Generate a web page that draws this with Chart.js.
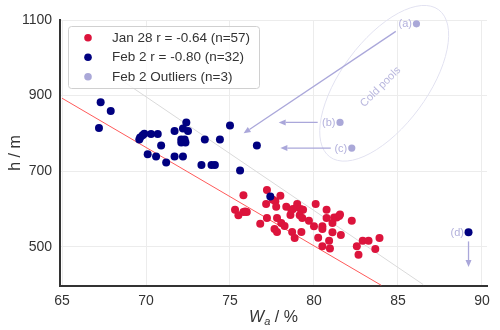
<!DOCTYPE html>
<html>
<head>
<meta charset="utf-8">
<script src="https://cdn.jsdelivr.net/npm/chart.js@4.4.1/dist/chart.umd.min.js"></script>
<style>
  html, body { margin: 0; padding: 0; background: #fff; }
  canvas { display: block; }
</style>
</head>
<body>
<canvas id="chart" width="500" height="330"></canvas>
<script>
// ── data ───────────────────────────────────────────
const janX = [75.3, 75.5, 75.8, 75.8, 75.9, 76.0, 77.2, 77.55, 77.7, 77.75,
              78.0, 77.15, 77.2, 76.8, 77.8, 78.05, 78.25, 77.65, 77.8, 78.35,
              78.65, 78.75, 79.0, 79.0, 79.2, 79.35, 78.6, 79.15, 79.3, 78.7,
              78.85, 79.25, 79.7, 80.0, 80.1, 80.75, 80.75, 80.5, 80.5, 80.25,
              80.5, 81.1, 81.2, 81.35, 81.5, 81.55, 81.1, 80.9, 80.95, 81.6,
              82.25, 82.55, 82.65, 82.9, 83.25, 83.65, 83.9];
const janY = [598, 583, 636, 592, 593, 592, 650, 624, 620, 606,
              635, 613, 576, 561, 576, 563, 555, 547, 539, 606,
              598, 600, 613, 605, 600, 598, 584, 583, 576, 539,
              523, 539, 569, 554, 613, 598, 576, 554, 547, 524,
              501, 563, 577, 577, 581, 585, 538, 516, 495, 531,
              569, 501, 479, 516, 516, 494, 523];

const febX = [67.3, 67.9, 67.2, 69.6, 69.65, 69.8, 69.9, 70.3, 70.7, 70.9,
              70.1, 70.6, 71.2, 71.7, 72.2, 72.4, 72.5, 72.1, 72.3, 72.1,
              72.35, 71.7, 72.2, 73.3, 73.9, 74.1, 73.5, 74.4, 75.0, 75.6,
              76.6, 77.4];
const febY = [882, 859, 814, 784, 789, 795, 799, 798, 798, 768,
              745, 739, 723, 806, 813, 829, 806, 784, 784, 776,
              776, 739, 739, 716, 716, 716, 784, 784, 821, 702,
              768, 633];

const outX = [86.1, 81.55, 82.25];
const outY = [1090, 829, 761];
const outLabels = ['(a)', '(b)', '(c)'];

const dX = [89.2];
const dY = [538];
const dLabels = ['(d)'];

// fitted lines (end points)
const janFitX = [65, 84];
const janFitY = [893, 398];
const febFitX = [68.4, 86.5];
const febFitY = [945, 400];

// arrows: from -> to
const arrowX0 = [84.87, 80.22, 81.0, 89.2];
const arrowY0 = [1070, 829, 761, 514];
const arrowX1 = [75.81, 77.9, 78.0, 89.2];
const arrowY1 = [800, 829, 761, 446];

const poolX = 84.18, poolY = 932.5;     // ellipse centre
const poolTextX = 83.96, poolTextY = 922.8;

const xTicks = [65, 70, 75, 80, 85, 90];
const yTicks = [500, 700, 900, 1100];

const legendItems = [
  { text: 'Jan 28 r = -0.64 (n=57)', color: '#dc143c' },
  { text: 'Feb 2 r = -0.80 (n=32)', color: '#000080' },
  { text: 'Feb 2 Outliers (n=3)', color: '#aaa8d8' }
];

// ───────────────────────────────────────────────────
const FONT = '"Liberation Sans", Arial, sans-serif';
const noteColor = '#aaa7da';
const pts = (xs, ys) => xs.map((x, i) => ({ x, y: ys[i] }));

function drawArrow(ctx, x0, y0, x1, y1) {
  const ang = Math.atan2(y1 - y0, x1 - x0);
  const L = 7, W = 3;
  const bx = x1 - L * Math.cos(ang), by = y1 - L * Math.sin(ang);
  ctx.beginPath();
  ctx.moveTo(x0, y0);
  ctx.lineTo(bx, by);
  ctx.stroke();
  ctx.beginPath();
  ctx.moveTo(x1, y1);
  ctx.lineTo(bx + W * Math.sin(ang), by - W * Math.cos(ang));
  ctx.lineTo(bx - W * Math.sin(ang), by + W * Math.cos(ang));
  ctx.closePath();
  ctx.fill();
}

const notesPlugin = {
  id: 'notes',
  afterDatasetsDraw(chart) {
    const ctx = chart.ctx, xs = chart.scales.x, ys = chart.scales.y;
    ctx.save();
    // cold pool ellipse
    ctx.strokeStyle = '#e2e2f1';
    ctx.lineWidth = 1;
    ctx.beginPath();
    ctx.ellipse(xs.getPixelForValue(poolX), ys.getPixelForValue(poolY), 91.5, 43, -53.5 * Math.PI / 180, 0, Math.PI * 2);
    ctx.stroke();

    ctx.save();
    ctx.translate(xs.getPixelForValue(poolTextX), ys.getPixelForValue(poolTextY));
    ctx.rotate(-45 * Math.PI / 180);
    ctx.fillStyle = '#b9b7de';
    ctx.font = '11px ' + FONT;
    ctx.textAlign = 'center';
    ctx.textBaseline = 'middle';
    ctx.fillText('Cold pools', 0, 0);
    ctx.restore();

    // arrows
    ctx.strokeStyle = noteColor;
    ctx.fillStyle = noteColor;
    ctx.lineWidth = 1.3;
    arrowX0.forEach((x, i) => {
      drawArrow(ctx, xs.getPixelForValue(x), ys.getPixelForValue(arrowY0[i]),
                xs.getPixelForValue(arrowX1[i]), ys.getPixelForValue(arrowY1[i]));
    });

    // point labels
    ctx.fillStyle = '#b3b1dc';
    ctx.font = '11px ' + FONT;
    ctx.textAlign = 'right';
    ctx.textBaseline = 'middle';
    const labX = outX.concat(dX), labY = outY.concat(dY), labs = outLabels.concat(dLabels);
    labs.forEach((t, i) => {
      ctx.fillText(t, xs.getPixelForValue(labX[i]) - 4.5, ys.getPixelForValue(labY[i]) + 0.5);
    });
    ctx.restore();
  }
};

const framePlugin = {
  id: 'frame',
  afterDraw(chart) {
    const ctx = chart.ctx, a = chart.chartArea;
    ctx.save();
    // legend
    const bx = 68.5, by = 26.5, bw = 191, bh = 62;
    ctx.fillStyle = 'rgba(255,255,255,0.8)';
    ctx.strokeStyle = '#d0d0d0';
    ctx.lineWidth = 1;
    ctx.beginPath();
    ctx.roundRect(bx, by, bw, bh, 3);
    ctx.fill();
    ctx.stroke();
    ctx.font = '13.5px ' + FONT;
    ctx.textBaseline = 'middle';
    ctx.textAlign = 'left';
    legendItems.forEach((it, i) => {
      const y = 37.7 + i * 19.5;
      ctx.fillStyle = it.color;
      ctx.beginPath();
      ctx.arc(88, y, 3.8, 0, Math.PI * 2);
      ctx.fill();
      ctx.fillStyle = '#333';
      ctx.fillText(it.text, 112, y + 0.5);
    });

    // axis titles
    ctx.fillStyle = '#333';
    ctx.save();
    ctx.translate(16, (a.top + a.bottom) / 2);
    ctx.rotate(-Math.PI / 2);
    ctx.font = '16px ' + FONT;
    ctx.textAlign = 'center';
    ctx.fillText('h / m', 0, 0);
    ctx.restore();

    const fMain = 'italic 16px ' + FONT, fSub = 'italic 11px ' + FONT, fRest = '16px ' + FONT;
    ctx.font = fMain; const w1 = ctx.measureText('W').width;
    ctx.font = fSub;  const w2 = ctx.measureText('a').width;
    ctx.font = fRest; const w3 = ctx.measureText(' / %').width;
    let x = (a.left + a.right) / 2 - (w1 + w2 + w3) / 2;
    const y = 318;
    ctx.textAlign = 'left';
    ctx.textBaseline = 'middle';
    ctx.font = fMain; ctx.fillText('W', x, y); x += w1;
    ctx.font = fSub;  ctx.fillText('a', x, y + 4); x += w2;
    ctx.font = fRest; ctx.fillText(' / %', x, y);
    ctx.restore();
  }
};

const tickFont = { family: FONT, size: 14 };

new Chart(document.getElementById('chart'), {
  type: 'scatter',
  data: {
    datasets: [
      { type: 'line', data: pts(febFitX, febFitY), borderColor: '#dadada', borderWidth: 1,
        pointRadius: 0, order: 6 },
      { type: 'line', data: pts(janFitX, janFitY), borderColor: '#ff5a5a', borderWidth: 1,
        pointRadius: 0, order: 5 },
      { data: pts(janX, janY), backgroundColor: '#dc143c', pointRadius: 4, borderWidth: 0, order: 3 },
      { data: pts(outX, outY), backgroundColor: '#aaa8d8', pointRadius: 3.6, borderWidth: 0, order: 2 },
      { data: pts(febX, febY), backgroundColor: '#000080', pointRadius: 4, borderWidth: 0, order: 1 },
      { data: pts(dX, dY), backgroundColor: '#000080', pointRadius: 4, borderWidth: 0, order: 1 }
    ]
  },
  options: {
    responsive: false,
    devicePixelRatio: 1,
    animation: false,
    events: [],
    layout: { padding: { top: 20, right: 13, left: 0, bottom: 0 } },
    plugins: { legend: { display: false }, tooltip: { enabled: false } },
    scales: {
      x: {
        type: 'linear', min: 64.88, max: 90.3,
        afterBuildTicks: s => { s.ticks = xTicks.map(v => ({ value: v })); },
        afterFit: s => { s.height = 44; },
        grid: { color: '#ececec', drawTicks: false },
        border: { color: '#333', width: 2 },
        ticks: { font: tickFont, color: '#333', padding: 7, callback: v => String(v) }
      },
      y: {
        type: 'linear', min: 396, max: 1100,
        afterBuildTicks: s => { s.ticks = yTicks.map(v => ({ value: v })); },
        afterFit: s => { s.width = 60; },
        grid: { color: '#ececec', drawTicks: false },
        border: { color: '#333', width: 2 },
        ticks: { font: tickFont, color: '#333', padding: 8, callback: v => String(v) }
      }
    }
  },
  plugins: [notesPlugin, framePlugin]
});
</script>
</body>
</html>
